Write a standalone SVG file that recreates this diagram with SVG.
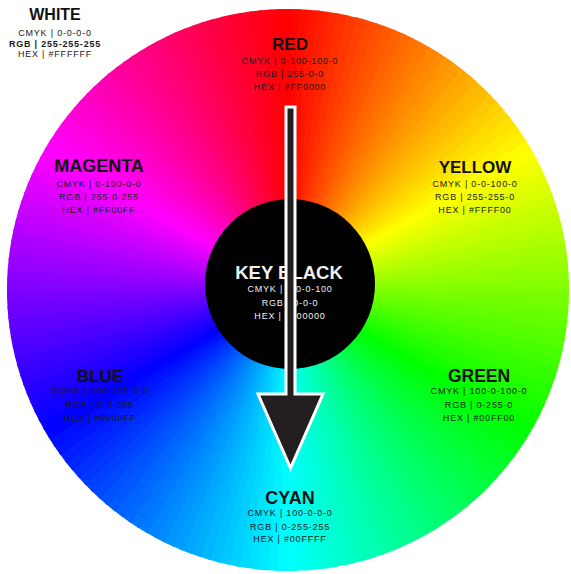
<svg xmlns="http://www.w3.org/2000/svg" xmlns:xlink="http://www.w3.org/1999/xlink" width="571" height="574" viewBox="0 0 571 574">
<style>
.t{font-family:"Liberation Sans",Arial,sans-serif;font-weight:bold;fill:#111;text-anchor:middle}
.s{font-family:"Liberation Sans",Arial,sans-serif;font-size:9px;letter-spacing:0.8px;fill:#1a1a1a;text-anchor:middle}
.wt{fill:#f2f2f2}
.b{font-weight:bold}
</style>
<defs>
<path id="w" d="M0 0V-281A281 281 0 0 1 12.75 -280.71Z"/>
</defs>
<rect width="571" height="574" fill="#fff"/>
<g id="wheel" transform="translate(288 290)">
<use href="#w" transform="rotate(0)" fill="hsl(1,100%,50%)"/><use href="#w" transform="rotate(2)" fill="hsl(3,100%,50%)"/><use href="#w" transform="rotate(4)" fill="hsl(5,100%,50%)"/><use href="#w" transform="rotate(6)" fill="hsl(7,100%,50%)"/><use href="#w" transform="rotate(8)" fill="hsl(9,100%,50%)"/><use href="#w" transform="rotate(10)" fill="hsl(11,100%,50%)"/><use href="#w" transform="rotate(12)" fill="hsl(13,100%,50%)"/><use href="#w" transform="rotate(14)" fill="hsl(15,100%,50%)"/><use href="#w" transform="rotate(16)" fill="hsl(17,100%,50%)"/><use href="#w" transform="rotate(18)" fill="hsl(19,100%,50%)"/>
<use href="#w" transform="rotate(20)" fill="hsl(21,100%,50%)"/><use href="#w" transform="rotate(22)" fill="hsl(23,100%,50%)"/><use href="#w" transform="rotate(24)" fill="hsl(25,100%,50%)"/><use href="#w" transform="rotate(26)" fill="hsl(27,100%,50%)"/><use href="#w" transform="rotate(28)" fill="hsl(29,100%,50%)"/><use href="#w" transform="rotate(30)" fill="hsl(31,100%,50%)"/><use href="#w" transform="rotate(32)" fill="hsl(33,100%,50%)"/><use href="#w" transform="rotate(34)" fill="hsl(35,100%,50%)"/><use href="#w" transform="rotate(36)" fill="hsl(37,100%,50%)"/><use href="#w" transform="rotate(38)" fill="hsl(39,100%,50%)"/>
<use href="#w" transform="rotate(40)" fill="hsl(41,100%,50%)"/><use href="#w" transform="rotate(42)" fill="hsl(43,100%,50%)"/><use href="#w" transform="rotate(44)" fill="hsl(45,100%,50%)"/><use href="#w" transform="rotate(46)" fill="hsl(47,100%,50%)"/><use href="#w" transform="rotate(48)" fill="hsl(49,100%,50%)"/><use href="#w" transform="rotate(50)" fill="hsl(51,100%,50%)"/><use href="#w" transform="rotate(52)" fill="hsl(53,100%,50%)"/><use href="#w" transform="rotate(54)" fill="hsl(55,100%,50%)"/><use href="#w" transform="rotate(56)" fill="hsl(57,100%,50%)"/><use href="#w" transform="rotate(58)" fill="hsl(59,100%,50%)"/>
<use href="#w" transform="rotate(60)" fill="hsl(61,100%,50%)"/><use href="#w" transform="rotate(62)" fill="hsl(63,100%,50%)"/><use href="#w" transform="rotate(64)" fill="hsl(65,100%,50%)"/><use href="#w" transform="rotate(66)" fill="hsl(67,100%,50%)"/><use href="#w" transform="rotate(68)" fill="hsl(69,100%,50%)"/><use href="#w" transform="rotate(70)" fill="hsl(71,100%,50%)"/><use href="#w" transform="rotate(72)" fill="hsl(73,100%,50%)"/><use href="#w" transform="rotate(74)" fill="hsl(75,100%,50%)"/><use href="#w" transform="rotate(76)" fill="hsl(77,100%,50%)"/><use href="#w" transform="rotate(78)" fill="hsl(79,100%,50%)"/>
<use href="#w" transform="rotate(80)" fill="hsl(81,100%,50%)"/><use href="#w" transform="rotate(82)" fill="hsl(83,100%,50%)"/><use href="#w" transform="rotate(84)" fill="hsl(85,100%,50%)"/><use href="#w" transform="rotate(86)" fill="hsl(87,100%,50%)"/><use href="#w" transform="rotate(88)" fill="hsl(89,100%,50%)"/><use href="#w" transform="rotate(90)" fill="hsl(91,100%,50%)"/><use href="#w" transform="rotate(92)" fill="hsl(93,100%,50%)"/><use href="#w" transform="rotate(94)" fill="hsl(95,100%,50%)"/><use href="#w" transform="rotate(96)" fill="hsl(97,100%,50%)"/><use href="#w" transform="rotate(98)" fill="hsl(99,100%,50%)"/>
<use href="#w" transform="rotate(100)" fill="hsl(101,100%,50%)"/><use href="#w" transform="rotate(102)" fill="hsl(103,100%,50%)"/><use href="#w" transform="rotate(104)" fill="hsl(105,100%,50%)"/><use href="#w" transform="rotate(106)" fill="hsl(107,100%,50%)"/><use href="#w" transform="rotate(108)" fill="hsl(109,100%,50%)"/><use href="#w" transform="rotate(110)" fill="hsl(111,100%,50%)"/><use href="#w" transform="rotate(112)" fill="hsl(113,100%,50%)"/><use href="#w" transform="rotate(114)" fill="hsl(115,100%,50%)"/><use href="#w" transform="rotate(116)" fill="hsl(117,100%,50%)"/><use href="#w" transform="rotate(118)" fill="hsl(119,100%,50%)"/>
<use href="#w" transform="rotate(120)" fill="hsl(121,100%,50%)"/><use href="#w" transform="rotate(122)" fill="hsl(123,100%,50%)"/><use href="#w" transform="rotate(124)" fill="hsl(125,100%,50%)"/><use href="#w" transform="rotate(126)" fill="hsl(127,100%,50%)"/><use href="#w" transform="rotate(128)" fill="hsl(129,100%,50%)"/><use href="#w" transform="rotate(130)" fill="hsl(131,100%,50%)"/><use href="#w" transform="rotate(132)" fill="hsl(133,100%,50%)"/><use href="#w" transform="rotate(134)" fill="hsl(135,100%,50%)"/><use href="#w" transform="rotate(136)" fill="hsl(137,100%,50%)"/><use href="#w" transform="rotate(138)" fill="hsl(139,100%,50%)"/>
<use href="#w" transform="rotate(140)" fill="hsl(141,100%,50%)"/><use href="#w" transform="rotate(142)" fill="hsl(143,100%,50%)"/><use href="#w" transform="rotate(144)" fill="hsl(145,100%,50%)"/><use href="#w" transform="rotate(146)" fill="hsl(147,100%,50%)"/><use href="#w" transform="rotate(148)" fill="hsl(149,100%,50%)"/><use href="#w" transform="rotate(150)" fill="hsl(151,100%,50%)"/><use href="#w" transform="rotate(152)" fill="hsl(153,100%,50%)"/><use href="#w" transform="rotate(154)" fill="hsl(155,100%,50%)"/><use href="#w" transform="rotate(156)" fill="hsl(157,100%,50%)"/><use href="#w" transform="rotate(158)" fill="hsl(159,100%,50%)"/>
<use href="#w" transform="rotate(160)" fill="hsl(161,100%,50%)"/><use href="#w" transform="rotate(162)" fill="hsl(163,100%,50%)"/><use href="#w" transform="rotate(164)" fill="hsl(165,100%,50%)"/><use href="#w" transform="rotate(166)" fill="hsl(167,100%,50%)"/><use href="#w" transform="rotate(168)" fill="hsl(169,100%,50%)"/><use href="#w" transform="rotate(170)" fill="hsl(171,100%,50%)"/><use href="#w" transform="rotate(172)" fill="hsl(173,100%,50%)"/><use href="#w" transform="rotate(174)" fill="hsl(175,100%,50%)"/><use href="#w" transform="rotate(176)" fill="hsl(177,100%,50%)"/><use href="#w" transform="rotate(178)" fill="hsl(179,100%,50%)"/>
<use href="#w" transform="rotate(180)" fill="hsl(181,100%,50%)"/><use href="#w" transform="rotate(182)" fill="hsl(183,100%,50%)"/><use href="#w" transform="rotate(184)" fill="hsl(185,100%,50%)"/><use href="#w" transform="rotate(186)" fill="hsl(187,100%,50%)"/><use href="#w" transform="rotate(188)" fill="hsl(189,100%,50%)"/><use href="#w" transform="rotate(190)" fill="hsl(191,100%,50%)"/><use href="#w" transform="rotate(192)" fill="hsl(193,100%,50%)"/><use href="#w" transform="rotate(194)" fill="hsl(195,100%,50%)"/><use href="#w" transform="rotate(196)" fill="hsl(197,100%,50%)"/><use href="#w" transform="rotate(198)" fill="hsl(199,100%,50%)"/>
<use href="#w" transform="rotate(200)" fill="hsl(201,100%,50%)"/><use href="#w" transform="rotate(202)" fill="hsl(203,100%,50%)"/><use href="#w" transform="rotate(204)" fill="hsl(205,100%,50%)"/><use href="#w" transform="rotate(206)" fill="hsl(207,100%,50%)"/><use href="#w" transform="rotate(208)" fill="hsl(209,100%,50%)"/><use href="#w" transform="rotate(210)" fill="hsl(211,100%,50%)"/><use href="#w" transform="rotate(212)" fill="hsl(213,100%,50%)"/><use href="#w" transform="rotate(214)" fill="hsl(215,100%,50%)"/><use href="#w" transform="rotate(216)" fill="hsl(217,100%,50%)"/><use href="#w" transform="rotate(218)" fill="hsl(219,100%,50%)"/>
<use href="#w" transform="rotate(220)" fill="hsl(221,100%,50%)"/><use href="#w" transform="rotate(222)" fill="hsl(223,100%,50%)"/><use href="#w" transform="rotate(224)" fill="hsl(225,100%,50%)"/><use href="#w" transform="rotate(226)" fill="hsl(227,100%,50%)"/><use href="#w" transform="rotate(228)" fill="hsl(229,100%,50%)"/><use href="#w" transform="rotate(230)" fill="hsl(231,100%,50%)"/><use href="#w" transform="rotate(232)" fill="hsl(233,100%,50%)"/><use href="#w" transform="rotate(234)" fill="hsl(235,100%,50%)"/><use href="#w" transform="rotate(236)" fill="hsl(237,100%,50%)"/><use href="#w" transform="rotate(238)" fill="hsl(239,100%,50%)"/>
<use href="#w" transform="rotate(240)" fill="hsl(241,100%,50%)"/><use href="#w" transform="rotate(242)" fill="hsl(243,100%,50%)"/><use href="#w" transform="rotate(244)" fill="hsl(245,100%,50%)"/><use href="#w" transform="rotate(246)" fill="hsl(247,100%,50%)"/><use href="#w" transform="rotate(248)" fill="hsl(249,100%,50%)"/><use href="#w" transform="rotate(250)" fill="hsl(251,100%,50%)"/><use href="#w" transform="rotate(252)" fill="hsl(253,100%,50%)"/><use href="#w" transform="rotate(254)" fill="hsl(255,100%,50%)"/><use href="#w" transform="rotate(256)" fill="hsl(257,100%,50%)"/><use href="#w" transform="rotate(258)" fill="hsl(259,100%,50%)"/>
<use href="#w" transform="rotate(260)" fill="hsl(261,100%,50%)"/><use href="#w" transform="rotate(262)" fill="hsl(263,100%,50%)"/><use href="#w" transform="rotate(264)" fill="hsl(265,100%,50%)"/><use href="#w" transform="rotate(266)" fill="hsl(267,100%,50%)"/><use href="#w" transform="rotate(268)" fill="hsl(269,100%,50%)"/><use href="#w" transform="rotate(270)" fill="hsl(271,100%,50%)"/><use href="#w" transform="rotate(272)" fill="hsl(273,100%,50%)"/><use href="#w" transform="rotate(274)" fill="hsl(275,100%,50%)"/><use href="#w" transform="rotate(276)" fill="hsl(277,100%,50%)"/><use href="#w" transform="rotate(278)" fill="hsl(279,100%,50%)"/>
<use href="#w" transform="rotate(280)" fill="hsl(281,100%,50%)"/><use href="#w" transform="rotate(282)" fill="hsl(283,100%,50%)"/><use href="#w" transform="rotate(284)" fill="hsl(285,100%,50%)"/><use href="#w" transform="rotate(286)" fill="hsl(287,100%,50%)"/><use href="#w" transform="rotate(288)" fill="hsl(289,100%,50%)"/><use href="#w" transform="rotate(290)" fill="hsl(291,100%,50%)"/><use href="#w" transform="rotate(292)" fill="hsl(293,100%,50%)"/><use href="#w" transform="rotate(294)" fill="hsl(295,100%,50%)"/><use href="#w" transform="rotate(296)" fill="hsl(297,100%,50%)"/><use href="#w" transform="rotate(298)" fill="hsl(299,100%,50%)"/>
<use href="#w" transform="rotate(300)" fill="hsl(301,100%,50%)"/><use href="#w" transform="rotate(302)" fill="hsl(303,100%,50%)"/><use href="#w" transform="rotate(304)" fill="hsl(305,100%,50%)"/><use href="#w" transform="rotate(306)" fill="hsl(307,100%,50%)"/><use href="#w" transform="rotate(308)" fill="hsl(309,100%,50%)"/><use href="#w" transform="rotate(310)" fill="hsl(311,100%,50%)"/><use href="#w" transform="rotate(312)" fill="hsl(313,100%,50%)"/><use href="#w" transform="rotate(314)" fill="hsl(315,100%,50%)"/><use href="#w" transform="rotate(316)" fill="hsl(317,100%,50%)"/><use href="#w" transform="rotate(318)" fill="hsl(319,100%,50%)"/>
<use href="#w" transform="rotate(320)" fill="hsl(321,100%,50%)"/><use href="#w" transform="rotate(322)" fill="hsl(323,100%,50%)"/><use href="#w" transform="rotate(324)" fill="hsl(325,100%,50%)"/><use href="#w" transform="rotate(326)" fill="hsl(327,100%,50%)"/><use href="#w" transform="rotate(328)" fill="hsl(329,100%,50%)"/><use href="#w" transform="rotate(330)" fill="hsl(331,100%,50%)"/><use href="#w" transform="rotate(332)" fill="hsl(333,100%,50%)"/><use href="#w" transform="rotate(334)" fill="hsl(335,100%,50%)"/><use href="#w" transform="rotate(336)" fill="hsl(337,100%,50%)"/><use href="#w" transform="rotate(338)" fill="hsl(339,100%,50%)"/>
<use href="#w" transform="rotate(340)" fill="hsl(341,100%,50%)"/><use href="#w" transform="rotate(342)" fill="hsl(343,100%,50%)"/><use href="#w" transform="rotate(344)" fill="hsl(345,100%,50%)"/><use href="#w" transform="rotate(346)" fill="hsl(347,100%,50%)"/><use href="#w" transform="rotate(348)" fill="hsl(349,100%,50%)"/><use href="#w" transform="rotate(350)" fill="hsl(351,100%,50%)"/><use href="#w" transform="rotate(352)" fill="hsl(353,100%,50%)"/><use href="#w" transform="rotate(354)" fill="hsl(355,100%,50%)"/><use href="#w" transform="rotate(356)" fill="hsl(357,100%,50%)"/><use href="#w" transform="rotate(358)" fill="hsl(359,100%,50%)"/>
</g>
<g id="white">
<text class="t" x="55" y="20" font-size="16">WHITE</text>
<text class="s" x="55" y="36">CMYK | 0-0-0-0</text>
<text class="s b" x="55" y="46.5">RGB | 255-255-255</text>
<text class="s" x="55" y="57">HEX | #FFFFFF</text>
</g>
<g id="red">
<text class="t" x="290" y="50" font-size="17">RED</text>
<text class="s" x="290" y="64">CMYK | 0-100-100-0</text>
<text class="s" x="290" y="77">RGB | 255-0-0</text>
<text class="s" x="290" y="90">HEX | #FF0000</text>
</g>
<g id="magenta">
<text class="t" x="99" y="172" font-size="18">MAGENTA</text>
<text class="s" x="99" y="187">CMYK | 0-100-0-0</text>
<text class="s" x="99" y="200">RGB | 255-0-255</text>
<text class="s" x="99" y="213">HEX | #FF00FF</text>
</g>
<g id="yellow">
<text class="t" x="475" y="173" font-size="17">YELLOW</text>
<text class="s" x="475" y="187">CMYK | 0-0-100-0</text>
<text class="s" x="475" y="200">RGB | 255-255-0</text>
<text class="s" x="475" y="213">HEX | #FFFF00</text>
</g>
<g id="keyblack">
<circle cx="290" cy="284" r="85" fill="#000"/>
<text class="t wt" x="289" y="279" font-size="18.5">KEY BLACK</text>
<text class="s wt" x="290" y="292">CMYK | 0-0-0-100</text>
<text class="s wt" x="290" y="306">RGB | 0-0-0</text>
<text class="s wt" x="290" y="319">HEX | #000000</text>
</g>
<g id="blue">
<text class="t" x="100" y="382" font-size="17">BLUE</text>
<text class="s" x="100" y="394">CMYK | 100-100-0-0</text>
<text class="s" x="100" y="408">RGB | 0-0-255</text>
<text class="s" x="100" y="421">HEX | #0000FF</text>
</g>
<g id="green">
<text class="t" x="479" y="382" font-size="17.5">GREEN</text>
<text class="s" x="479" y="394">CMYK | 100-0-100-0</text>
<text class="s" x="479" y="408">RGB | 0-255-0</text>
<text class="s" x="479" y="421">HEX | #00FF00</text>
</g>
<g id="cyan">
<text class="t" x="290" y="504" font-size="18">CYAN</text>
<text class="s" x="290" y="516">CMYK | 100-0-0-0</text>
<text class="s" x="290" y="530">RGB | 0-255-255</text>
<text class="s" x="290" y="542">HEX | #00FFFF</text>
</g>
<g id="connectors">
<path d="M286 107H295V394H323L290.5 468L258 394H286Z" fill="#231f20" stroke="#fff" stroke-width="3" stroke-linejoin="miter"/>
</g>
</svg>
